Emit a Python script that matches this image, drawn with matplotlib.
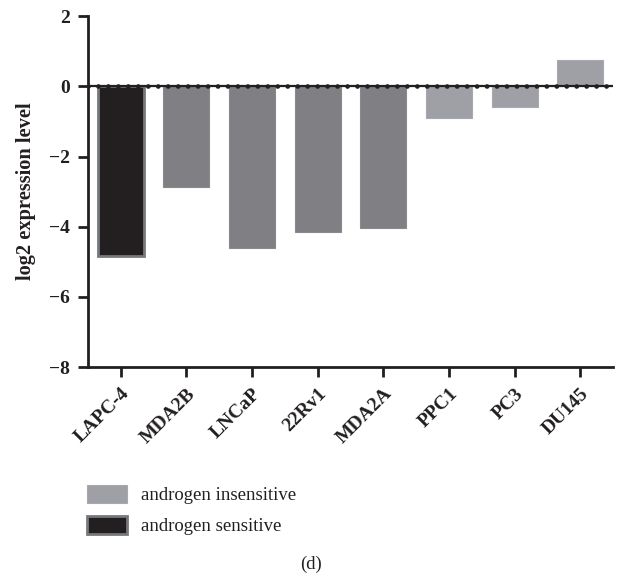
import numpy as np
import matplotlib
matplotlib.use("Agg")
import matplotlib.pyplot as plt
from matplotlib.patches import Patch

# cell lines and their log2 expression
cell_lines = ["LAPC-4", "MDA2B", "LNCaP", "22Rv1", "MDA2A", "PPC1", "PC3", "DU145"]
log2_expr = [-4.83, -2.88, -4.62, -4.15, -4.03, -0.91, -0.60, 0.75]
groups = ["sensitive", "mid", "mid", "mid", "mid", "insensitive", "insensitive", "insensitive"]

fill = {"sensitive": "#231f20", "mid": "#808084", "insensitive": "#9fa0a6"}
edge = {"sensitive": "#77787b", "mid": "#8a8a8e", "insensitive": "#a8a9ae"}

plt.rcParams["font.family"] = ["Liberation Serif", "DejaVu Serif"]

fig = plt.figure(figsize=(6.17, 5.78), dpi=100)
ax = fig.add_axes([0.1426, 0.365, 0.851, 0.607])

x = np.arange(len(cell_lines))
for i, (v, g) in enumerate(zip(log2_expr, groups)):
    lw = 2.0 if g == "sensitive" else 0.8
    ax.bar(x[i], v, width=0.70, color=fill[g], edgecolor=edge[g], linewidth=lw, zorder=2)

# zero line with dots
ax.axhline(0, color="#231f20", lw=1.6, zorder=3)
ax.plot([-0.5, 7.5], [0, 0], color="#231f20", lw=3.4, linestyle=(0, (0.01, 2.1)),
        dash_capstyle="round", zorder=4)

ax.set_xlim(-0.5, 7.5)
ax.set_ylim(-8, 2)
ax.set_yticks([-8, -6, -4, -2, 0, 2])
ax.set_yticklabels(["\u22128", "\u22126", "\u22124", "\u22122", "0", "2"])
ax.set_xticks(x)
ax.set_xticklabels(cell_lines, rotation=45, ha="right", rotation_mode="anchor")

for lab in ax.get_xticklabels() + ax.get_yticklabels():
    lab.set_fontweight("bold")
    lab.set_fontsize(14)
    lab.set_color("#231f20")

ax.tick_params(axis="both", direction="out", length=7, width=2, color="#231f20")
ax.tick_params(axis="y", pad=6)
ax.tick_params(axis="x", pad=6)

for s in ["top", "right"]:
    ax.spines[s].set_visible(False)
for s in ["left", "bottom"]:
    ax.spines[s].set_linewidth(2)
    ax.spines[s].set_color("#231f20")

ax.set_ylabel("log2 expression level", fontsize=14.7, fontweight="bold", color="#231f20", labelpad=9)

handles = [
    Patch(facecolor=fill["insensitive"], edgecolor=edge["insensitive"], linewidth=0.8,
          label="androgen insensitive"),
    Patch(facecolor=fill["sensitive"], edgecolor=edge["sensitive"], linewidth=2,
          label="androgen sensitive"),
]
fig.legend(handles=handles, loc="upper left", bbox_to_anchor=(0.114, 0.19),
           frameon=False, fontsize=13.5, handlelength=2.1, handleheight=1.1,
           handletextpad=0.75, labelspacing=0.6, labelcolor="#231f20")

fig.text(0.504, 0.024, "(d)", ha="center", va="center", fontsize=13.5, color="#231f20")

fig.savefig("out.png", dpi=100)
